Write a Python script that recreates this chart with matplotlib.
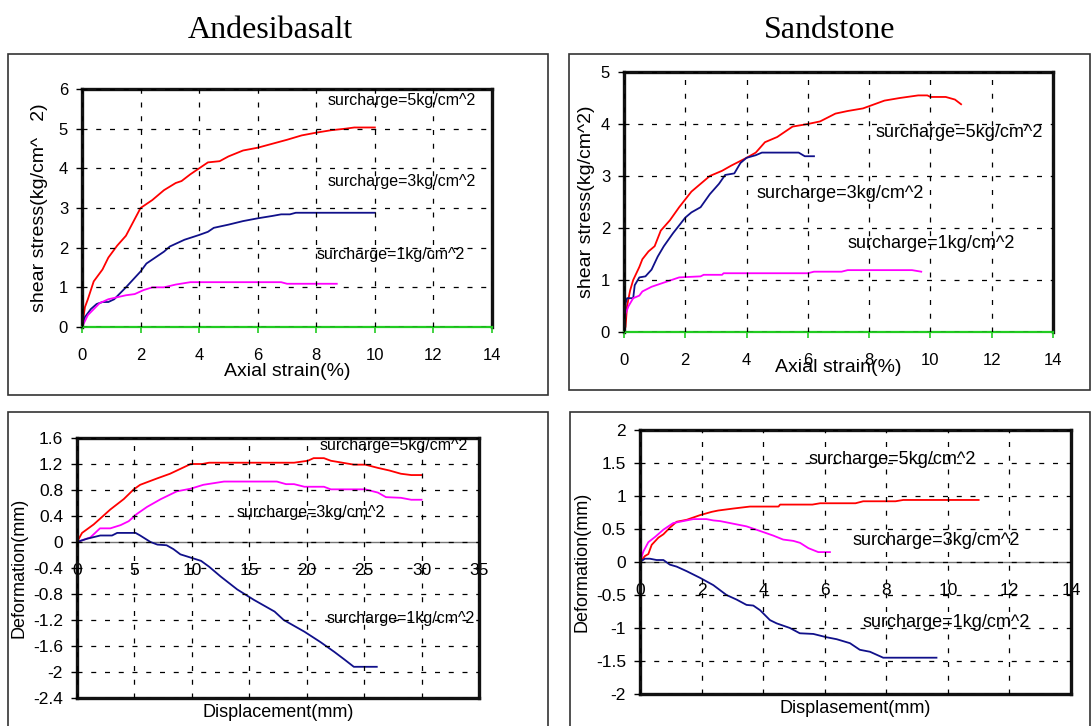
import matplotlib

matplotlib.use("Agg")
import matplotlib.pyplot as plt
from matplotlib.patches import Rectangle

plt.rcParams["font.family"] = ["Liberation Sans", "DejaVu Sans"]

RED = "#ff0000"
BLUE = "#10108a"
MAG = "#ff00ff"
GREEN = "#22cc22"

# --- Andesibasalt: shear stress vs axial strain ---
ab_s5_x = [0, 0.1, 0.2, 0.4, 0.7, 0.9, 1.2, 1.5, 2.0, 2.4, 2.8, 3.2, 3.4, 3.7, 4.0, 4.3, 4.7, 5.0, 5.5, 6.0, 6.5, 7.0, 7.5, 8.0, 8.5, 9.0, 9.3, 10.0]
ab_s5_y = [0, 0.5, 0.7, 1.15, 1.45, 1.75, 2.05, 2.3, 3.0, 3.2, 3.45, 3.63, 3.68, 3.85, 4.0, 4.15, 4.18, 4.3, 4.45, 4.52, 4.62, 4.72, 4.83, 4.9, 4.96, 5.0, 5.03, 5.03]
ab_s3_x = [0, 0.1, 0.3, 0.5, 0.7, 0.9, 1.1, 1.5, 2.0, 2.2, 2.5, 2.8, 3.0, 3.5, 4.0, 4.3, 4.5, 5.0, 5.5, 6.0, 6.5, 6.8, 7.1, 7.3, 10.0]
ab_s3_y = [0, 0.25, 0.45, 0.58, 0.63, 0.63, 0.7, 1.0, 1.4, 1.6, 1.75, 1.9, 2.03, 2.2, 2.32, 2.4, 2.5, 2.58, 2.67, 2.74, 2.8, 2.84, 2.84, 2.88, 2.88]
ab_s1_x = [0, 0.2, 0.4, 0.6, 0.9, 1.2, 1.5, 1.8, 2.1, 2.4, 2.8, 3.2, 3.7, 6.8, 7.0, 8.7]
ab_s1_y = [0, 0.3, 0.45, 0.6, 0.7, 0.75, 0.8, 0.83, 0.93, 1.0, 1.0, 1.07, 1.13, 1.13, 1.09, 1.09]

# --- Sandstone: shear stress vs axial strain ---
ss_s5_x = [0, 0.05, 0.1, 0.2, 0.3, 0.5, 0.6, 0.8, 1.0, 1.2, 1.5, 1.8, 2.0, 2.2, 2.5, 2.8, 3.2, 3.5, 4.0, 4.3, 4.6, 5.0, 5.5, 6.0, 6.4, 6.9, 7.3, 7.8, 8.5, 9.0, 9.6, 9.9, 10.0, 10.5, 10.8, 11.0]
ss_s5_y = [0, 0.1, 0.5, 0.8, 1.0, 1.25, 1.4, 1.55, 1.65, 1.95, 2.15, 2.4, 2.55, 2.7, 2.85, 3.0, 3.1, 3.2, 3.35, 3.45, 3.65, 3.75, 3.95, 4.0, 4.05, 4.2, 4.25, 4.3, 4.45, 4.5, 4.55, 4.55, 4.52, 4.52, 4.47, 4.38]
ss_s3_x = [0, 0.05, 0.1, 0.3, 0.35, 0.5, 0.7, 0.9, 1.1, 1.3, 1.6, 1.8, 2.0, 2.2, 2.5, 2.8, 3.1, 3.3, 3.6, 3.8, 4.0, 4.3, 4.5, 5.7, 5.9, 6.2]
ss_s3_y = [0, 0.55, 0.65, 0.65, 0.9, 1.05, 1.07, 1.2, 1.45, 1.65, 1.9, 2.05, 2.2, 2.3, 2.4, 2.65, 2.85, 3.02, 3.05, 3.25, 3.35, 3.4, 3.45, 3.45, 3.38, 3.38]
ss_s1_x = [0, 0.05, 0.15, 0.3, 0.5, 0.6, 0.9, 1.3, 1.8, 2.5, 2.6, 3.2, 3.25, 6.0, 6.2, 7.1, 7.3, 9.4, 9.7]
ss_s1_y = [0, 0.35, 0.5, 0.65, 0.7, 0.78, 0.87, 0.95, 1.05, 1.07, 1.1, 1.1, 1.13, 1.13, 1.16, 1.16, 1.19, 1.19, 1.16]

# --- Andesibasalt: deformation vs displacement ---
ad_s5_x = [0, 0.44, 1.45, 2.9, 4.07, 4.94, 5.5, 7.0, 8.1, 9.3, 9.9, 10.9, 11.5, 18.9, 20.1, 20.6, 21.5, 22.1, 24.1, 25.1, 26.2, 27.2, 28.2, 29.1, 30.0]
ad_s5_y = [0, 0.14, 0.27, 0.5, 0.66, 0.81, 0.88, 0.98, 1.05, 1.15, 1.2, 1.2, 1.22, 1.22, 1.25, 1.29, 1.29, 1.25, 1.19, 1.19, 1.14, 1.1, 1.05, 1.03, 1.03]
ad_s3_x = [0, 1.16, 2.0, 2.9, 3.8, 4.5, 5.2, 6.1, 7.3, 8.7, 9.9, 11.0, 12.8, 17.4, 18.2, 18.9, 19.8, 21.5, 22.1, 25.1, 26.2, 26.9, 28.2, 29.1, 30.0]
ad_s3_y = [0, 0.07, 0.21, 0.21, 0.26, 0.32, 0.43, 0.54, 0.66, 0.78, 0.82, 0.88, 0.93, 0.93, 0.89, 0.89, 0.85, 0.85, 0.81, 0.81, 0.76, 0.69, 0.68, 0.65, 0.65]
ad_s1_x = [0, 0.87, 2.03, 3.05, 3.5, 5.1, 5.5, 6.4, 7.0, 7.8, 8.4, 9.0, 9.9, 10.8, 11.5, 12.5, 13.95, 15.4, 17.2, 18.0, 19.8, 21.2, 22.4, 23.3, 24.1, 26.1]
ad_s1_y = [0, 0.05, 0.1, 0.1, 0.14, 0.14, 0.1, 0, -0.04, -0.05, -0.11, -0.19, -0.24, -0.29, -0.38, -0.53, -0.73, -0.89, -1.07, -1.2, -1.38, -1.54, -1.69, -1.81, -1.92, -1.92]

# --- Sandstone: deformation vs displacement ---
sd_s5_x = [0, 0.16, 0.27, 0.38, 0.6, 0.76, 0.97, 1.19, 1.52, 1.95, 2.33, 2.54, 3.03, 3.57, 4.5, 4.55, 5.6, 5.85, 7.0, 7.25, 8.3, 8.55, 11.0]
sd_s5_y = [0, 0.09, 0.12, 0.26, 0.37, 0.42, 0.52, 0.61, 0.64, 0.71, 0.76, 0.78, 0.81, 0.84, 0.84, 0.87, 0.87, 0.89, 0.89, 0.92, 0.92, 0.94, 0.94]
sd_s3_x = [0, 0.11, 0.27, 0.49, 0.76, 1.08, 1.73, 2.16, 2.38, 2.6, 3.03, 3.46, 3.9, 4.33, 4.65, 4.98, 5.2, 5.47, 5.79, 6.17]
sd_s3_y = [0, 0.16, 0.3, 0.38, 0.49, 0.59, 0.65, 0.65, 0.63, 0.62, 0.58, 0.54, 0.47, 0.4, 0.34, 0.32, 0.29, 0.21, 0.15, 0.15]
sd_s1_x = [0, 0.16, 0.32, 0.54, 0.76, 0.97, 1.19, 1.52, 1.95, 2.38, 2.81, 3.14, 3.46, 3.68, 3.9, 4.22, 4.44, 4.87, 5.19, 5.63, 6.06, 6.39, 6.82, 7.14, 7.47, 7.9, 9.63]
sd_s1_y = [0, 0.05, 0.05, 0.03, 0.03, -0.04, -0.07, -0.14, -0.24, -0.35, -0.5, -0.57, -0.65, -0.66, -0.73, -0.88, -0.93, -1.0, -1.08, -1.09, -1.14, -1.17, -1.23, -1.33, -1.36, -1.45, -1.45]

W, H = 1092, 726
fig = plt.figure(figsize=(W / 100, H / 100), dpi=100)


def px_axes(l, t, r, b):
    return fig.add_axes([l / W, 1 - b / H, (r - l) / W, (b - t) / H])


def box(l, t, r, b):
    fig.add_artist(Rectangle((l / W, 1 - b / H), (r - l) / W, (b - t) / H,
                             transform=fig.transFigure, fill=False,
                             ec="#333333", lw=1.2))


def frame(ax):
    for s in ax.spines.values():
        s.set_linewidth(2.4)
        s.set_color("#111111")
    ax.grid(True, color="black", linestyle=(0, (4, 7)), linewidth=0.9)
    ax.set_axisbelow(False)


box(8, 54, 548, 395)
box(569, 54, 1090, 390)
box(8, 412, 548, 730)
box(570, 412, 1090, 730)

fig.text(270 / W, 1 - 31 / H, "Andesibasalt", ha="center", va="center",
         family="Liberation Serif", fontsize=23)
fig.text(830 / W, 1 - 31 / H, "Sandstone", ha="center", va="center",
         family="Liberation Serif", fontsize=23)

# top panels
for (l, t, r, b), sets, ymax, ylab, fs, nfs, notes in [
    ((82, 89, 492, 327),
     [(ab_s5_x, ab_s5_y, RED), (ab_s3_x, ab_s3_y, BLUE), (ab_s1_x, ab_s1_y, MAG)],
     6, "shear stress(kg/cm^   2)", 12, 11.5,
     [(8.4, 5.72, "surcharge=5kg/cm^2"), (8.4, 3.66, "surcharge=3kg/cm^2"), (8.0, 1.84, "surcharge=1kg/cm^2")]),
    ((624, 72, 1053, 332),
     [(ss_s5_x, ss_s5_y, RED), (ss_s3_x, ss_s3_y, BLUE), (ss_s1_x, ss_s1_y, MAG)],
     5, "shear stress(kg/cm^2)", 12, 13,
     [(8.22, 3.83, "surcharge=5kg/cm^2"), (4.31, 2.67, "surcharge=3kg/cm^2"), (7.31, 1.71, "surcharge=1kg/cm^2")]),
]:
    ax = px_axes(l, t, r, b)
    for x, y, c in sets:
        ax.plot(x, y, color=c, lw=1.3)
    ax.set_xlim(0, 14)
    ax.set_ylim(0, ymax)
    ax.set_xticks(range(0, 15, 2))
    ax.set_yticks(range(0, ymax + 1))
    frame(ax)
    ax.spines["bottom"].set_color(GREEN)
    ax.spines["bottom"].set_linewidth(1.6)
    ax.tick_params(axis="x", colors=GREEN, labelcolor="black", length=4,
                   width=1.2, pad=11, labelsize=fs)
    ax.tick_params(axis="y", length=4, width=1, pad=6, labelsize=fs)
    ax.set_xlabel("Axial strain(%)", fontsize=14, labelpad=-6 if ymax == 5 else 0)
    ax.set_ylabel(ylab, fontsize=14, labelpad=8 if ymax == 6 else 4)
    for nx, ny, s in notes:
        ax.text(nx, ny, s, fontsize=nfs, va="center", ha="left")

# bottom panels
for (l, t, r, b), sets, xlim, xt, ylim, yt, ytl, xlab, nfs, notes in [
    ((77, 438, 479, 698),
     [(ad_s5_x, ad_s5_y, RED), (ad_s3_x, ad_s3_y, MAG), (ad_s1_x, ad_s1_y, BLUE)],
     (0, 35), range(0, 36, 5), (-2.4, 1.6),
     [1.6, 1.2, 0.8, 0.4, 0, -0.4, -0.8, -1.2, -1.6, -2, -2.4],
     ["1.6", "1.2", "0.8", "0.4", "0", "-0.4", "-0.8", "-1.2", "-1.6", "-2", "-2.4"],
     "Displacement(mm)", 11.5,
     [(21.1, 1.48, "surcharge=5kg/cm^2"), (13.9, 0.46, "surcharge=3kg/cm^2"), (21.7, -1.17, "surcharge=1kg/cm^2")]),
    ((640, 430, 1071, 694),
     [(sd_s5_x, sd_s5_y, RED), (sd_s3_x, sd_s3_y, MAG), (sd_s1_x, sd_s1_y, BLUE)],
     (0, 14), range(0, 15, 2), (-2, 2),
     [2, 1.5, 1, 0.5, 0, -0.5, -1, -1.5, -2],
     ["2", "1.5", "1", "0.5", "0", "-0.5", "-1", "-1.5", "-2"],
     "Displasement(mm)", 13,
     [(5.46, 1.55, "surcharge=5kg/cm^2"), (6.89, 0.32, "surcharge=3kg/cm^2"), (7.24, -0.91, "surcharge=1kg/cm^2")]),
]:
    ax = px_axes(l, t, r, b)
    ax.axhline(0, color="#777777", lw=1)
    for x, y, c in sets:
        ax.plot(x, y, color=c, lw=1.3)
    ax.set_xlim(*xlim)
    ax.set_ylim(*ylim)
    ax.set_xticks(list(xt))
    ax.set_yticks(yt)
    ax.set_yticklabels(ytl)
    frame(ax)
    ax.tick_params(axis="x", length=0, labelbottom=False)
    ax.tick_params(axis="y", length=4, width=1, pad=6, labelsize=12.5)
    zero = (0 - ylim[0]) / (ylim[1] - ylim[0])
    sec = ax.secondary_xaxis(zero)
    sec.xaxis.set_ticks_position("bottom")
    sec.set_xticks(list(xt))
    sec.set_xticklabels([str(v) for v in xt])
    sec.tick_params(length=0, pad=15, labelsize=12.5)
    for s in sec.spines.values():
        s.set_visible(False)
    ax.set_xlabel(xlab, fontsize=13, labelpad=4)
    ax.set_ylabel("Deformation(mm)", fontsize=13, labelpad=4)
    for nx, ny, s in notes:
        ax.text(nx, ny, s, fontsize=nfs, va="center", ha="left")

fig.savefig("out.png", dpi=100)
